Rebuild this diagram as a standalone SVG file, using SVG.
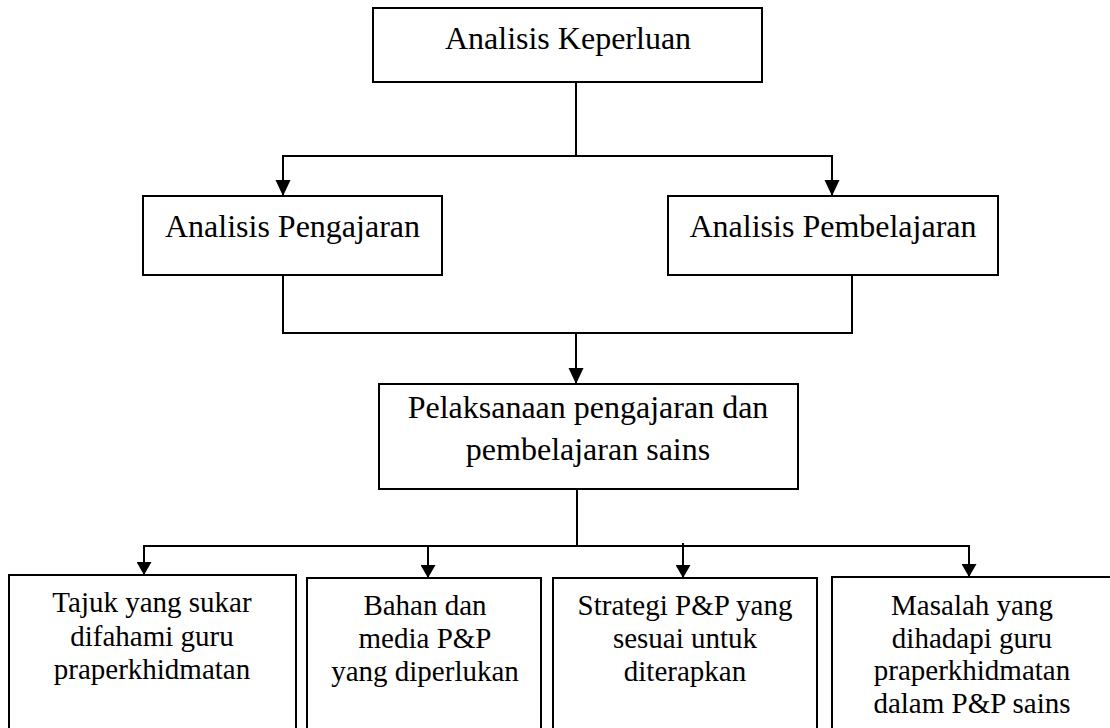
<svg xmlns="http://www.w3.org/2000/svg" width="1110" height="728" viewBox="0 0 1110 728">
  <style>
    .box { fill: #fff; stroke: #000; stroke-width: 2; }
    .wire { fill: none; stroke: #000; stroke-width: 2; }
    .big { font-size: 32px; fill: #000; text-anchor: middle; }
    .small { font-size: 29px; fill: #000; text-anchor: middle; }
  </style>
  <defs>
    <marker id="headL" markerUnits="userSpaceOnUse" markerWidth="16" markerHeight="16" refX="16" refY="7.5" orient="auto">
      <path d="M0,0 L16,7.5 L0,15 Z" fill="#000"/>
    </marker>
    <marker id="headS" markerUnits="userSpaceOnUse" markerWidth="14" markerHeight="15" refX="13" refY="7.5" orient="auto">
      <path d="M0,0 L13,7.5 L0,15 Z" fill="#000"/>
    </marker>
  </defs>

  <rect width="1110" height="728" fill="#fff"/>

  <g id="connectors">
    <path class="wire" d="M576,82 V156"/>
    <path class="wire" d="M576,156 H283 V196" marker-end="url(#headL)"/>
    <path class="wire" d="M576,156 H832 V196" marker-end="url(#headL)"/>
    <path class="wire" d="M283,275 V333 H852 V275"/>
    <path class="wire" d="M576,333 V384" marker-end="url(#headL)"/>
    <path class="wire" d="M577,489 V546"/>
    <path class="wire" d="M577,546 H144 V575" marker-end="url(#headS)"/>
    <path class="wire" d="M428,546 V578" marker-end="url(#headS)"/>
    <path class="wire" d="M577,546 H969 V577" marker-end="url(#headS)"/>
    <path class="wire" d="M683,543 V578" marker-end="url(#headS)"/>
  </g>

  <g font-family="'Liberation Serif', 'DejaVu Serif', serif">
    <g id="analisis-keperluan">
      <rect class="box" x="373" y="8" width="389" height="74"/>
      <text class="big" x="568" y="49">Analisis Keperluan</text>
    </g>

    <g id="analisis-pengajaran">
      <rect class="box" x="143" y="196" width="299" height="79"/>
      <text class="big" x="292.5" y="237">Analisis Pengajaran</text>
    </g>

    <g id="analisis-pembelajaran">
      <rect class="box" x="668" y="196" width="330" height="79"/>
      <text class="big" x="833" y="237">Analisis Pembelajaran</text>
    </g>

    <g id="pelaksanaan">
      <rect class="box" x="379" y="384" width="419" height="105"/>
      <text class="big" x="588" y="418">Pelaksanaan pengajaran dan</text>
      <text class="big" x="588" y="460">pembelajaran sains</text>
    </g>

    <g id="tajuk">
      <rect class="box" x="9" y="575" width="287" height="165"/>
      <text class="small" x="152" y="612">Tajuk yang sukar</text>
      <text class="small" x="152" y="646">difahami guru</text>
      <text class="small" x="152" y="679">praperkhidmatan</text>
    </g>

    <g id="bahan">
      <rect class="box" x="307" y="578" width="234" height="162"/>
      <text class="small" x="425" y="615">Bahan dan</text>
      <text class="small" x="425" y="648">media P&amp;P</text>
      <text class="small" x="425" y="681">yang diperlukan</text>
    </g>

    <g id="strategi">
      <rect class="box" x="553" y="578" width="264" height="162"/>
      <text class="small" x="685" y="615">Strategi P&amp;P yang</text>
      <text class="small" x="685" y="648">sesuai untuk</text>
      <text class="small" x="685" y="681">diterapkan</text>
    </g>

    <g id="masalah">
      <rect class="box" x="832" y="577" width="280" height="163"/>
      <text class="small" x="972" y="615">Masalah yang</text>
      <text class="small" x="972" y="648">dihadapi guru</text>
      <text class="small" x="972" y="680">praperkhidmatan</text>
      <text class="small" x="972" y="713">dalam P&amp;P sains</text>
    </g>
  </g>
</svg>
